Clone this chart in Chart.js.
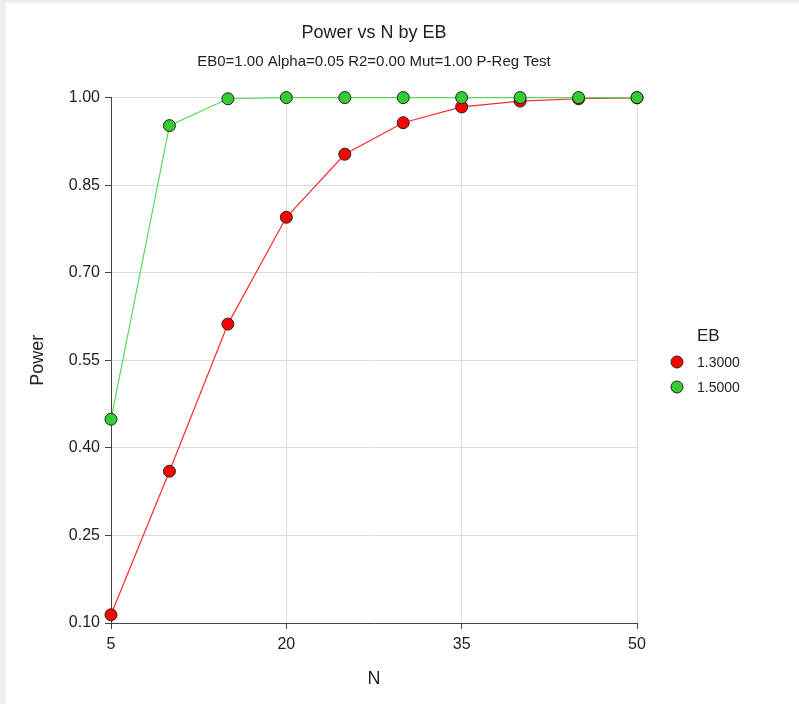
<!DOCTYPE html>
<html>
<head>
<meta charset="utf-8">
<script src="https://cdn.jsdelivr.net/npm/chart.js@4/dist/chart.umd.min.js"></script>
<style>
    html, body { margin: 0; padding: 0; background: #eeeeee; }
    #wrap { position: absolute; left: 6px; top: 3px; width: 793px; height: 701px; background: #ffffff; }
</style>
</head>
<body>
<div id="wrap"><canvas id="chart" width="793" height="701"></canvas></div>
<script>
const nValues = [5, 10, 15, 20, 25, 30, 35, 40, 45, 50];
const power13 = [0.114, 0.360, 0.612, 0.795, 0.903, 0.957, 0.984, 0.994, 0.998, 0.9995];
const power15 = [0.449, 0.952, 0.998, 1.000, 1.000, 1.000, 1.000, 1.000, 1.000, 1.000];
const xTicks = [5, 20, 35, 50];
const yTicks = [0.10, 0.25, 0.40, 0.55, 0.70, 0.85, 1.00];
const seriesNames = ['1.3000', '1.5000'];

const FONT = "'Liberation Sans', Arial, sans-serif";
const RED = '#ff0000';
const GREEN = '#33cc33';

function toPoints(values) {
    return nValues.map((n, i) => ({ x: n, y: values[i] }));
}

// legend on the right, drawn by hand so it sits where the reference has it
const sideLegend = {
    id: 'sideLegend',
    afterDraw(chart) {
        const ctx = chart.ctx;
        const x = chart.chartArea.right + 40;
        ctx.save();
        ctx.fillStyle = '#222';
        ctx.textBaseline = 'middle';
        ctx.font = '17px ' + FONT;
        ctx.fillText('EB', x + 20, 333);
        const colors = [RED, GREEN];
        ctx.font = '14px ' + FONT;
        seriesNames.forEach((name, i) => {
            const y = 359 + i * 25;
            ctx.beginPath();
            ctx.arc(x, y, 6, 0, Math.PI * 2);
            ctx.fillStyle = colors[i];
            ctx.fill();
            ctx.lineWidth = 1;
            ctx.strokeStyle = '#222';
            ctx.stroke();
            ctx.fillStyle = '#222';
            ctx.fillText(name, x + 20, y + 1);
        });
        ctx.restore();
    }
};

const ctx = document.getElementById('chart');
new Chart(ctx, {
    type: 'line',
    data: {
        datasets: [{
            label: seriesNames[0],
            data: toPoints(power13),
            borderColor: 'rgba(255, 20, 20, 0.9)',
            backgroundColor: RED,
            pointBackgroundColor: RED,
            pointBorderColor: '#222',
            pointBorderWidth: 1,
            pointRadius: 6,
            borderWidth: 1.2,
            tension: 0,
            clip: false,
            order: 1
        }, {
            label: seriesNames[1],
            data: toPoints(power15),
            borderColor: 'rgba(80, 215, 80, 0.95)',
            backgroundColor: GREEN,
            pointBackgroundColor: GREEN,
            pointBorderColor: '#222',
            pointBorderWidth: 1,
            pointRadius: 6,
            borderWidth: 1.2,
            tension: 0,
            clip: false,
            order: 0
        }]
    },
    options: {
        responsive: false,
        animation: false,
        layout: {
            padding: { left: 0, right: 162, top: 0, bottom: 0 }
        },
        scales: {
            x: {
                type: 'linear',
                min: 5,
                max: 50,
                afterBuildTicks: (scale) => { scale.ticks = xTicks.map(v => ({ value: v })); },
                afterFit: (scale) => { scale.height = 81; },
                grid: {
                    color: '#dcdcdc',
                    tickColor: '#444',
                    tickLength: 6
                },
                border: { color: '#444', width: 1 },
                ticks: {
                    color: '#222',
                    padding: 6,
                    maxRotation: 0,
                    font: { family: FONT, size: 16 }
                },
                title: {
                    display: true,
                    text: 'N',
                    color: '#222',
                    font: { family: FONT, size: 18 },
                    padding: { top: 0, bottom: 14 }
                }
            },
            y: {
                min: 0.10,
                max: 1.00,
                afterBuildTicks: (scale) => { scale.ticks = yTicks.map(v => ({ value: v })); },
                afterFit: (scale) => { scale.width = 105; },
                grid: {
                    color: '#dcdcdc',
                    tickColor: '#444',
                    tickLength: 6
                },
                border: { color: '#444', width: 1 },
                ticks: {
                    color: '#222',
                    padding: 5,
                    font: { family: FONT, size: 16 },
                    callback: (v) => Number(v).toFixed(2)
                },
                title: {
                    display: true,
                    text: 'Power',
                    color: '#222',
                    font: { family: FONT, size: 18 },
                    padding: { top: 21, bottom: 0 }
                }
            }
        },
        plugins: {
            legend: { display: false },
            tooltip: { enabled: false },
            title: {
                display: true,
                text: 'Power vs N by EB',
                fullSize: false,
                color: '#222',
                font: { family: FONT, size: 18, weight: 'normal' },
                padding: { top: 19, bottom: 9 }
            },
            subtitle: {
                display: true,
                text: 'EB0=1.00 Alpha=0.05 R2=0.00 Mut=1.00 P-Reg Test',
                fullSize: false,
                color: '#222',
                font: { family: FONT, size: 15 },
                padding: { top: 0, bottom: 27 }
            }
        }
    },
    plugins: [sideLegend]
});
</script>
</body>
</html>
